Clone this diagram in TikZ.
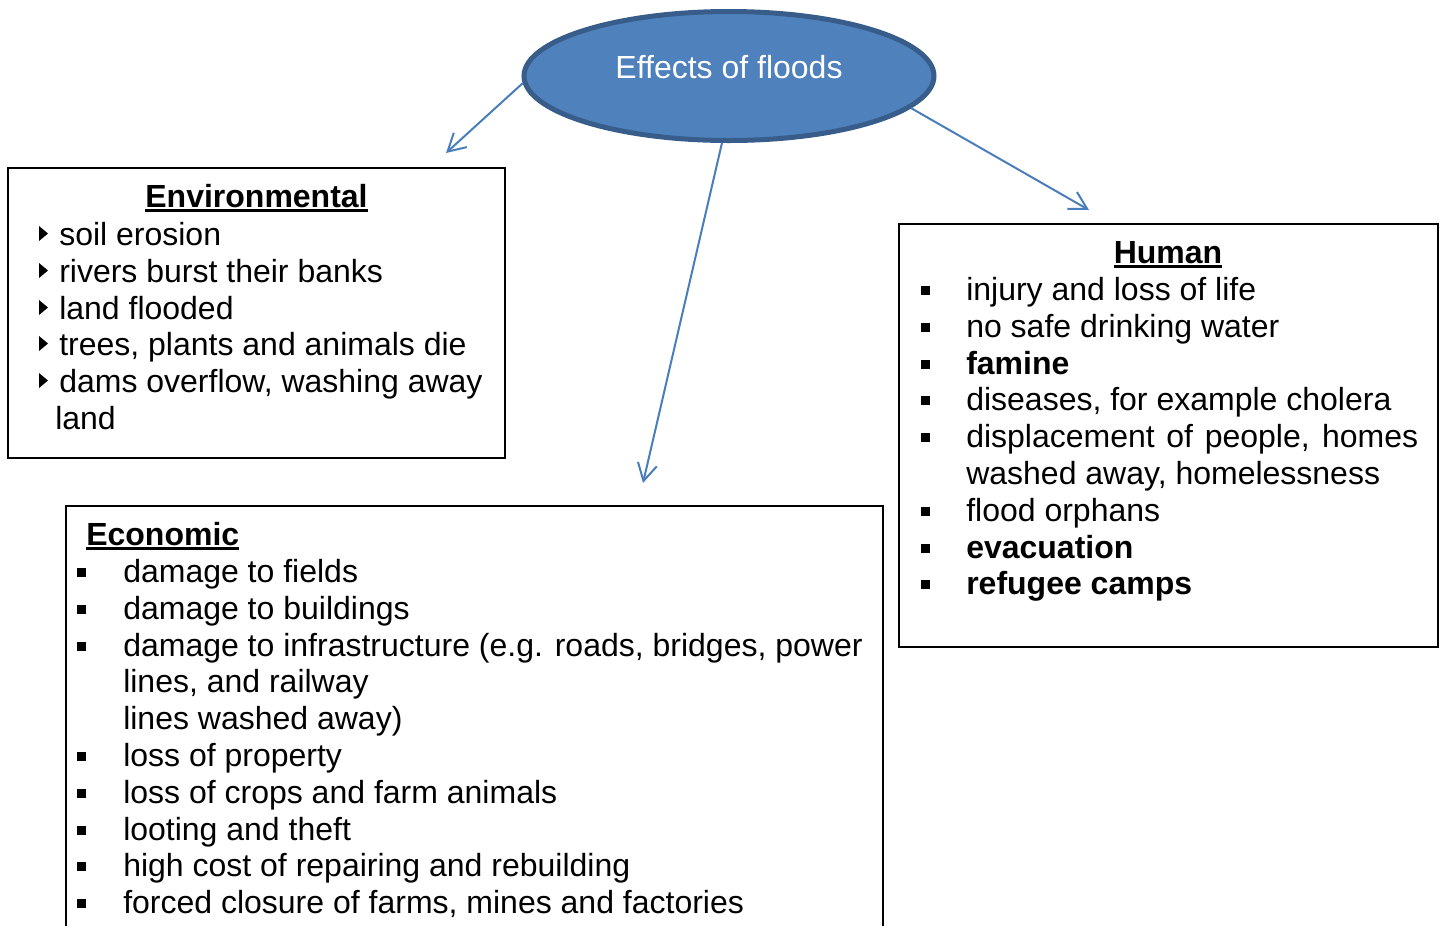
\documentclass[tikz,border=0pt]{standalone}
\usepackage{fontspec}
\setmainfont{Liberation Sans}
\usetikzlibrary{arrows.meta,shapes.geometric}
\definecolor{ellfill}{HTML}{4F81BD}
\definecolor{elldraw}{HTML}{385D8A}
\definecolor{arrowblue}{HTML}{4A7EBB}
\newcommand\hdul[1]{\setbox0\hbox{\bfseries #1}\rlap{\rule[-4pt]{\wd0}{2.2pt}}\box0}
\newcommand\itemfont{\fontsize{24}{28}\selectfont}
\begin{document}
\begin{tikzpicture}[x=0.75pt,y=-0.75pt,
  itm/.style={anchor=base west, inner sep=0pt, font=\itemfont},
  hdr/.style={anchor=base, inner sep=0pt, font=\itemfont},
  boxst/.style={draw=black, line width=1.5pt, rectangle, inner sep=0pt, outer sep=0pt, anchor=north west},
  conn/.style={draw=arrowblue, line width=1.5pt, -{Straight Barb[length=13pt,width=14.5pt,line width=1.5pt]}},
  tri/.style={fill=black},
  sq/.style={fill=black}]
\useasboundingbox (0,0) rectangle (1443,926);

% central ellipse
\node[ellipse, fill=ellfill, draw=elldraw, line width=3.75pt,
      minimum width=307.5pt, minimum height=96.75pt, inner sep=0pt] (ell) at (729,76) {};
\node[anchor=base, inner sep=0pt, font=\itemfont, text=white] (title) at (729,78) {Effects of floods};

% boxes
\node[boxst, minimum width=372.75pt, minimum height=217.5pt] (env) at (7.5,167.5) {};
\node[boxst, minimum width=404.25pt, minimum height=317.25pt] (hum) at (898.5,223.5) {};
\draw[line width=1.5pt] (65.5,926) -- (65.5,505.5) coordinate (ecotl) -- (882.5,505.5) coordinate (ecotr) -- (882.5,926);

% arrow tips
\coordinate (t1) at (446,153);
\coordinate (t2) at (643,483);
\coordinate (t3) at (1089,210);
\draw[conn] (ell.182.5) -- (t1);
\draw[conn] (ell.264) -- (t2);
\draw[conn] (ell.-10) -- (t3);

% Environmental
\node[hdr] (envh) at (256.5,207) {\hdul{Environmental}};
\node[itm] (e1) at (59,245) {soil erosion};
\node[itm] (e2) at (59,282) {rivers burst their banks};
\node[itm] (e3) at (59,319) {land flooded};
\node[itm] (e4) at (59,355) {trees, plants and animals die};
\node[itm] (e5) at (59,392) {dams overflow, washing away};
\node[itm] (e6) at (55,429) {land};
\foreach \b in {245,282,319,355,392}
  \fill[tri] (39,\b-19) -- (48,\b-11.5) -- (39,\b-4) -- cycle;

% Economic
\node[itm] (ech) at (86,545) {\hdul{Economic}};
\node[itm] (c1) at (123,582) {damage to fields};
\node[itm] (c2) at (123,619) {damage to buildings};
\node[itm] (c3) at (123,656) {damage to infrastructure (e.g. roads, bridges, power};
\node[itm] (c4) at (123,692) {lines, and railway};
\node[itm] (c5) at (123,729) {lines washed away)};
\node[itm] (c6) at (123,766) {loss of property};
\node[itm] (c7) at (123,803) {loss of crops and farm animals};
\node[itm] (c8) at (123,840) {looting and theft};
\node[itm] (c9) at (123,876) {high cost of repairing and rebuilding};
\node[itm] (c10) at (123,913) {forced closure of farms, mines and factories};
\foreach \b in {582,619,656,766,803,840,876,913}
  \fill[sq] (77,\b-14) rectangle (86,\b-5);

% Human
\node[hdr] (humh) at (1168,263) {\hdul{Human}};
\node[itm] (h1) at (966,300) {injury and loss of life};
\node[itm] (h2) at (966,337) {no safe drinking water};
\node[itm] (h3) at (966,374) {\bfseries famine};
\node[itm] (h4) at (966,410) {diseases, for example cholera};
\node[itm] (h5) at (966,447) {\makebox[339pt][s]{displacement of people, homes}};
\node[itm] (h6) at (966,484) {washed away, homelessness};
\node[itm] (h7) at (966,521) {flood orphans};
\node[itm] (h8) at (966,558) {\bfseries evacuation};
\node[itm] (h9) at (966,594) {\bfseries refugee camps};
\foreach \b in {300,337,374,410,447,521,558,594}
  \fill[sq] (921,\b-14) rectangle (930,\b-5);
\end{tikzpicture}
\end{document}
